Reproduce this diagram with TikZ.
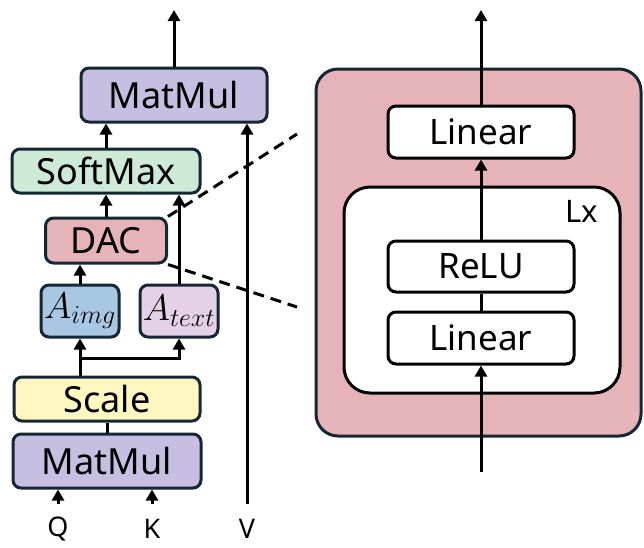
\documentclass[tikz,border=0pt]{standalone}
\usepackage{fix-cm}
\usepackage{fontspec}
\setmainfont{Noto Sans}
\usetikzlibrary{arrows.meta,positioning}

\definecolor{edge}{RGB}{22,38,52}
\definecolor{mmfill}{RGB}{198,191,226}
\definecolor{smfill}{RGB}{205,234,214}
\definecolor{dacfill}{RGB}{230,179,184}
\definecolor{imgfill}{RGB}{168,199,227}
\definecolor{txtfill}{RGB}{229,209,231}
\definecolor{scfill}{RGB}{255,247,192}

\begin{document}
\begin{tikzpicture}[x=1pt,y=-1pt,->,>={Triangle[length=11pt,width=12pt]},
      line width=3pt,
      blk/.style={draw=edge,rounded corners=8pt,inner sep=0pt,
        font=\fontsize{36}{42}\selectfont},
      wblk/.style={draw=black,fill=white,rounded corners=8pt,inner sep=0pt,
        minimum width=186pt,minimum height=52pt,font=\fontsize{35}{41}\selectfont},
      io/.style={inner sep=0pt,font=\fontsize{27}{31}\selectfont},
      zoomline/.style={-,dash pattern=on 11pt off 7pt}]
  \useasboundingbox (0,0) rectangle (644,547);

  % attention block
  \node[blk,fill=mmfill,minimum width=186pt,minimum height=54pt] (mmout) at (174,95) {MatMul};
  \node[blk,fill=smfill,minimum width=188pt,minimum height=44pt] (softmax) at (106,171) {SoftMax};
  \node[blk,fill=dacfill,minimum width=121pt,minimum height=45pt] (dac) at (106,240.5) {DAC};
  \node[blk,fill=imgfill,minimum width=78pt,minimum height=52pt,
    font=\fontsize{37}{42}\selectfont] (aimg) at (80,311) {$A_{img}$};
  \node[blk,fill=txtfill,minimum width=78pt,minimum height=52pt,
    font=\fontsize{37}{42}\selectfont] (atext) at (179,311) {$A_{text}$};
  \node[blk,fill=scfill,minimum width=186pt,minimum height=44pt] (scale) at (107,399) {Scale};
  \node[blk,fill=mmfill,minimum width=188pt,minimum height=54pt] (mmin) [below=10pt of scale] {MatMul};

  \node[io] (q) at (58,529) {Q};
  \node[io] (k) at (152,529) {K};
  \node[io] (v) at (247,529) {V};
  \coordinate (qin) at (58,504);
  \coordinate (kin) at (152,504);
  \coordinate (vin) at (247,504);
  \coordinate (outL) at (174,10);
  \coordinate (split) at (80,358);

  \draw (mmout) -- (outL);
  \draw (softmax.north) -- (softmax.north |- mmout.south);
  \draw (dac) -- (softmax);
  \draw (aimg.north) -- (aimg.north |- dac.south);
  \draw (atext.north) -- (atext.north |- softmax.south);
  \draw (scale.north -| aimg) -- (aimg.south);
  \draw (split) -| (atext.south);
  \draw[-] (scale) -- (mmin);
  \draw (qin) -- (qin |- mmin.south);
  \draw (kin) -- (kin |- mmin.south);
  \draw (vin) -- (vin |- mmout.south);

  % DAC expanded
  \node[draw=edge,fill=dacfill,rounded corners=22pt,minimum width=325pt,
    minimum height=367pt] (dacbox) at (478.5,252.5) {};
  \node[draw=black,fill=white,rounded corners=26pt,minimum width=276pt,
    minimum height=206pt] (loop) at (482,290) {};
  \node[io,font=\fontsize{31}{36}\selectfont] (lx) at (582,211) {Lx};
  \node[wblk] (linout) at (481,132) {Linear};
  \node[wblk,minimum height=51pt] (relu) at (481,266.5) {ReLU};
  \node[wblk] (linin) [below=17pt of relu] {Linear};
  \coordinate (outR) at (481,10);
  \coordinate (inR) at (481,472);

  \draw (linout) -- (outR);
  \draw (relu) -- (linout);
  \draw[-] (relu) -- (linin);
  \draw (inR) -- (linin);

  \draw[zoomline] (dac.north east) -- (297,134);
  \draw[zoomline] (dac.south east) -- (297,307);
\end{tikzpicture}
\end{document}
